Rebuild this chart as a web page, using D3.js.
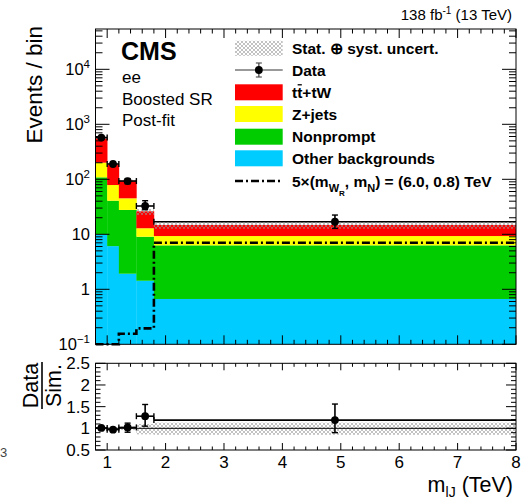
<!DOCTYPE html>
<html><head><meta charset="utf-8">
<script src="https://cdn.jsdelivr.net/npm/d3@7"></script>
<style>
body{margin:0;background:#fff;}
svg{display:block;font-family:"Liberation Sans",Arial,Helvetica,sans-serif;}
</style></head>
<body>
<svg id="c" width="526" height="499"></svg>
<script>
// ---- data ----
const binEdges = [0.8, 1.0, 1.2, 1.5, 1.8, 8.0];
const otherBkg  = [10.0, 6.1, 1.92, 1.43, 0.667];
const nonprompt = [98.7, 34.7, 25.8, 7.6, 5.63];
const zjets     = [91.8, 37.9, 17.4, 3.86, 3.0];
const ttbar     = [355.5, 108.3, 49.2, 13.3, 5.5];
const dataVal   = [575, 190, 93, 32.7, 16.9];
const dataLo    = [551, 176, 83, 28.0, 12.8];
const dataHi    = [599, 204, 103, 40.8, 22.4];
const signal5x  = [0.1, 0.1, 0.156, 0.195, 7.03];
const uncLo     = [0.97, 0.97, 0.96, 0.86, 0.85];
const uncHi     = [1.03, 1.03, 1.04, 1.10, 1.13];
const ratioVal  = [1.01, 0.97, 1.02, 1.28, 1.19];
const ratioLo   = [0.98, 0.93, 0.91, 1.05, 0.90];
const ratioHi   = [1.04, 1.01, 1.12, 1.55, 1.56];
const xTickVals = [1, 2, 3, 4, 5, 6, 7, 8];
const yTopTicks = [0.1, 1, 10, 100, 1000, 10000];
const yRatTicks = [0.5, 1, 1.5, 2, 2.5];
const layerKeys  = ["other", "nonprompt", "zjets", "ttbar"];
const layerColor = {other:"#00ccff", nonprompt:"#00cc00", zjets:"#ffff00", ttbar:"#ff0000"};

const svg = d3.select("#c");
const L = 95.5, R = 516, T1 = 29, B1 = 344.3, T2 = 363.3, B2 = 450;
const x = d3.scaleLinear([0.8, 8], [L, R]);
const y = d3.scaleLog([0.1, Math.pow(10, 4.733)], [B1, T1]);
const yr = d3.scaleLinear([0.5, 2.5], [B2, T2]);

const defs = svg.append("defs");
const pat = defs.append("pattern").attr("id","hatch").attr("patternUnits","userSpaceOnUse")
  .attr("width",4).attr("height",4);
pat.append("path").attr("d","M0,0L4,4M4,0L0,4").attr("stroke","#999").attr("stroke-width",0.6);
defs.append("clipPath").attr("id","clipTop").append("rect").attr("x",L).attr("y",T1).attr("width",R-L).attr("height",B1-T1+2);
defs.append("clipPath").attr("id","clipRat").append("rect").attr("x",L).attr("y",T2).attr("width",R-L).attr("height",B2-T2);

const bins = d3.range(5).map(i => ({i, x0:binEdges[i], x1:binEdges[i+1],
  other:otherBkg[i], nonprompt:nonprompt[i], zjets:zjets[i], ttbar:ttbar[i]}));
const stack = d3.stack().keys(layerKeys)(bins);

// ---- top panel ----
const gTop = svg.append("g").attr("clip-path","url(#clipTop)");
stack.forEach(layer => {
  gTop.selectAll(null).data(layer).enter().append("rect")
    .attr("x", d => x(d.data.x0))
    .attr("width", d => x(d.data.x1) - x(d.data.x0) + 0.3)
    .attr("y", d => y(d[1]))
    .attr("height", d => Math.max(0, (d[0] <= 0 ? B1 : y(d[0])) - y(d[1])))
    .attr("fill", layerColor[layer.key]);
});
const totals = bins.map(b => layerKeys.reduce((s,k)=>s+b[k],0));
gTop.selectAll(null).data(bins).enter().append("rect")
  .attr("x", d => x(d.x0)).attr("width", d => x(d.x1)-x(d.x0))
  .attr("y", d => y(totals[d.i]*uncHi[d.i]))
  .attr("height", d => y(totals[d.i]*uncLo[d.i]) - y(totals[d.i]*uncHi[d.i]))
  .attr("fill","url(#hatch)");

// signal step line
const sigPts = signal5x.map((v,i)=>[binEdges[i], v]).concat([[8, signal5x[4]]]);
svg.append("path").attr("clip-path","url(#clipTop)")
  .attr("d", d3.line().x(d=>x(d[0])).y(d=>Math.min(y(d[1]), B1)).curve(d3.curveStepAfter)(sigPts))
  .attr("fill","none").attr("stroke","#000").attr("stroke-width",2.6)
  .attr("stroke-dasharray","8,3,2,3");

// data points
function drawPoints(g, vals, los, his, ys) {
  bins.forEach((b,i) => {
    const cx = x((b.x0+b.x1)/2), cy = ys(vals[i]);
    const yl = ys(los[i]), yh = ys(his[i]);
    g.append("line").attr("x1",x(b.x0)).attr("x2",x(b.x1)).attr("y1",cy).attr("y2",cy).attr("stroke","#000").attr("stroke-width",1.6);
    g.append("line").attr("x1",cx).attr("x2",cx).attr("y1",yl).attr("y2",yh).attr("stroke","#000").attr("stroke-width",1.6);
    [yl,yh].forEach(yy => g.append("line").attr("x1",cx-3).attr("x2",cx+3).attr("y1",yy).attr("y2",yy).attr("stroke","#000").attr("stroke-width",1.4));
    [x(b.x0), x(b.x1)].forEach(xx => { if (xx > L+1 && xx < R-1) g.append("line").attr("x1",xx).attr("x2",xx).attr("y1",cy-3).attr("y2",cy+3).attr("stroke","#000").attr("stroke-width",1.4); });
    g.append("circle").attr("cx",cx).attr("cy",cy).attr("r",3.9).attr("fill","#000");
  });
}
drawPoints(svg.append("g"), dataVal, dataLo, dataHi, y);

// frame + ticks
function frame(T, B) {
  svg.append("rect").attr("x",L).attr("y",T).attr("width",R-L).attr("height",B-T)
    .attr("fill","none").attr("stroke","#000").attr("stroke-width",1);
}
function xTicks(T, B, maj, min) {
  const g = svg.append("g").attr("stroke","#000").attr("stroke-width",1);
  d3.range(0, 37).map(k => 0.8 + k*0.2).forEach(v => {
    const isMaj = Math.abs(v - Math.round(v)) < 1e-6;
    const len = isMaj ? maj : min, xx = x(v);
    g.append("line").attr("x1",xx).attr("x2",xx).attr("y1",B).attr("y2",B-len);
    g.append("line").attr("x1",xx).attr("x2",xx).attr("y1",T).attr("y2",T+len);
  });
}
frame(T1, B1);
xTicks(T1, B1, 9, 4.5);
{
  const g = svg.append("g").attr("stroke","#000").attr("stroke-width",1);
  for (let e = -1; e <= 4; e++) {
    for (let m = 1; m <= 9; m++) {
      const v = m * Math.pow(10, e);
      if (v < 0.1 || v > Math.pow(10,4.733)) continue;
      const yy = y(v), len = m === 1 ? 14 : 7;
      g.append("line").attr("x1",L).attr("x2",L+len).attr("y1",yy).attr("y2",yy);
      g.append("line").attr("x1",R).attr("x2",R-len).attr("y1",yy).attr("y2",yy);
    }
  }
}
yTopTicks.forEach(v => {
  const e = Math.round(Math.log10(v));
  const t = svg.append("text").attr("x",90).attr("y",y(v)+6).attr("text-anchor","end")
    .attr("font-size",16.5).attr("fill","#000");
  if (e === 0) t.text("1");
  else if (e === 1) t.text("10");
  else { t.append("tspan").text("10"); t.append("tspan").attr("dy",-7).attr("font-size",11.5).text(String(e).replace("-","\u2212")); }
});

// ---- ratio panel ----
const gR = svg.append("g").attr("clip-path","url(#clipRat)");
gR.selectAll(null).data(bins).enter().append("rect")
  .attr("x", d => x(d.x0)).attr("width", d => x(d.x1)-x(d.x0))
  .attr("y", d => yr(uncHi[d.i])).attr("height", d => yr(uncLo[d.i]) - yr(uncHi[d.i]))
  .attr("fill","url(#hatch)");
svg.append("line").attr("x1",L).attr("x2",R).attr("y1",yr(1)).attr("y2",yr(1)).attr("stroke","#000").attr("stroke-width",1);
drawPoints(svg.append("g"), ratioVal, ratioLo, ratioHi, yr);
frame(T2, B2);
xTicks(T2, B2, 7, 3.5);
{
  const g = svg.append("g").attr("stroke","#000").attr("stroke-width",1);
  d3.range(0, 21).map(k => 0.5 + k*0.1).forEach((v,k) => {
    const len = k % 5 === 0 ? 10 : 5, yy = yr(v);
    g.append("line").attr("x1",L).attr("x2",L+len).attr("y1",yy).attr("y2",yy);
    g.append("line").attr("x1",R).attr("x2",R-len).attr("y1",yy).attr("y2",yy);
  });
}
yRatTicks.forEach(v => svg.append("text").attr("x",90).attr("y",yr(v)+6).attr("text-anchor","end")
  .attr("font-size",17).text(v));
xTickVals.forEach(v => svg.append("text").attr("x",x(v)).attr("y",468).attr("text-anchor","middle")
  .attr("font-size",17).text(v));

// ---- titles ----
svg.append("text").attr("transform","translate(41.5,26) rotate(-90)").attr("text-anchor","end")
  .attr("font-size",22.5).text("Events / bin");
svg.append("text").attr("transform","translate(38,385.5) rotate(-90)").attr("text-anchor","middle")
  .attr("font-size",21.5).text("Data");
svg.append("text").attr("transform","translate(61,385.5) rotate(-90)").attr("text-anchor","middle")
  .attr("font-size",21.5).text("Sim.");
svg.append("line").attr("x1",42).attr("x2",42).attr("y1",362).attr("y2",409).attr("stroke","#000").attr("stroke-width",1.6);
{
  const t = svg.append("text").attr("x",513).attr("y",491.5).attr("text-anchor","end").attr("font-size",21.5);
  t.append("tspan").text("m");
  t.append("tspan").attr("dy",5).attr("font-size",14).text("lJ");
  t.append("tspan").attr("dy",-5).text(" (TeV)");
}
{
  const t = svg.append("text").attr("x",512).attr("y",20).attr("text-anchor","end").attr("font-size",15);
  t.append("tspan").text("138 fb");
  t.append("tspan").attr("dy",-6).attr("font-size",10).text("-1");
  t.append("tspan").attr("dy",6).text(" (13 TeV)");
}
svg.append("text").attr("x",121).attr("y",60).attr("font-size",25).attr("font-weight","bold").text("CMS");
[["ee",83],["Boosted SR",104.5],["Post-fit",126]].forEach(([s,yy]) =>
  svg.append("text").attr("x",122).attr("y",yy).attr("font-size",17).text(s));
svg.append("text").attr("x",0).attr("y",457).attr("font-size",13).attr("fill","#444").text("3");

// ---- legend ----
const legX = 235, legW = 47.7, legTX = 292;
const legRows = [48.3, 70, 92.3, 114, 136.7, 158.3, 181];
svg.append("rect").attr("x",legX).attr("y",legRows[0]-7.5).attr("width",legW).attr("height",15).attr("fill","url(#hatch)");
{
  const cy = legRows[1], cx = legX + legW/2;
  svg.append("line").attr("x1",legX).attr("x2",legX+legW).attr("y1",cy).attr("y2",cy).attr("stroke","#777").attr("stroke-width",1.6);
  svg.append("line").attr("x1",cx).attr("x2",cx).attr("y1",cy-7).attr("y2",cy+7).attr("stroke","#555").attr("stroke-width",1.4);
  [cy-7,cy+7].forEach(yy=>svg.append("line").attr("x1",cx-3).attr("x2",cx+3).attr("y1",yy).attr("y2",yy).attr("stroke","#555").attr("stroke-width",1.2));
  svg.append("circle").attr("cx",cx).attr("cy",cy).attr("r",3.9).attr("fill","#000");
}
["ttbar","zjets","nonprompt","other"].forEach((k,j) => {
  svg.append("rect").attr("x",legX).attr("y",legRows[2+j]-8).attr("width",legW).attr("height",16).attr("fill",layerColor[k]);
});
svg.append("line").attr("x1",legX).attr("x2",legX+legW).attr("y1",legRows[6]).attr("y2",legRows[6])
  .attr("stroke","#000").attr("stroke-width",2.6).attr("stroke-dasharray","8,3,2,3");
const legTexts = ["Stat. \u2295 syst. uncert.", "Data", "tt+tW", "Z+jets", "Nonprompt", "Other backgrounds"];
legTexts.forEach((s,j) => {
  const t = svg.append("text").attr("x",legTX).attr("y",legRows[j]+5.6).attr("font-size",15.5).attr("font-weight","bold").text(s);
  if (j === 2) {
    const n = t.node();
    const p = n.getStartPositionOfChar(1), w = n.getSubStringLength(1,1);
    svg.append("line").attr("x1",p.x+0.5).attr("x2",p.x+w-0.5).attr("y1",legRows[j]-7.5).attr("y2",legRows[j]-7.5)
      .attr("stroke","#000").attr("stroke-width",1.3);
  }
});
{
  const t = svg.append("text").attr("x",legTX).attr("y",legRows[6]+5.6).attr("font-size",15.5).attr("font-weight","bold");
  t.append("tspan").text("5\u00d7(m");
  t.append("tspan").attr("dy",5).attr("font-size",11).text("W");
  t.append("tspan").attr("dy",4).attr("font-size",8).text("R");
  t.append("tspan").attr("dy",-9).text(", m");
  t.append("tspan").attr("dy",5).attr("font-size",11).text("N");
  t.append("tspan").attr("dy",-5).text(") = (6.0, 0.8) TeV");
}
</script>
</body></html>
